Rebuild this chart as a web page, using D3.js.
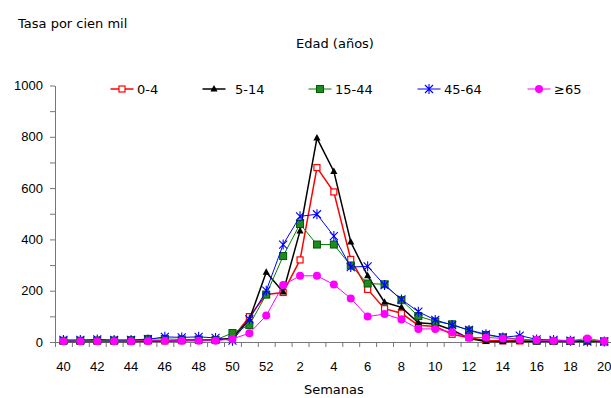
<!DOCTYPE html>
<html lang="es">
  <head>
    <meta charset="utf-8" />
    <title>Tasa por cien mil – Semanas</title>
    <script src="https://d3js.org/d3.v7.min.js"></script>
    <style>
      body {
        margin: 0;
        background: #fff;
        font-family: 'DejaVu Sans', sans-serif;
      }
      svg {
        display: block;
      }
      text {
        fill: #000;
        font-size: 13px;
      }
      .axis path,
      .axis line {
        stroke: #777;
      }
      .axis text {
        font-size: 13px;
        fill: #000;
      }
      .line {
        fill: none;
      }
    </style>
  </head>
  <body>
    <div id="chart"></div>
    <script>
      /* ----------------------------- DATA ----------------------------- */
      const weeks = [
        '40', '41', '42', '43', '44', '45', '46', '47', '48', '49', '50', '51', '52',
        '1', '2', '3', '4', '5', '6', '7', '8', '9', '10',
        '11', '12', '13', '14', '15', '16', '17', '18', '19', '20',
      ];

      const groups = ['0-4', '5-14', '15-44', '45-64', '≥65'];

      const age0to4 = [
        3, 3, 3, 3, 3, 4, 4, 5, 6, 8, 15, 99, 185,
        193, 320, 680, 585, 322, 205, 130, 112, 65, 60,
        30, 17, 6, 5, 4, 3, 3, 3, 3, 2,
      ];
      const age5to14 = [
        2, 2, 2, 2, 2, 3, 4, 6, 8, 8, 15, 88, 272,
        195, 433, 795, 665, 390, 258, 155, 135, 75, 70,
        47, 14, 2, 1, 3, 2, 2, 2, 2, 2,
      ];
      const age15to44 = [
        5, 5, 6, 6, 7, 12, 12, 10, 10, 8, 35, 66, 185,
        335, 460, 380, 380, 298, 228, 225, 163, 101, 80,
        69, 45, 27, 18, 10, 5, 4, 4, 6, 2,
      ];
      const age45to64 = [
        8, 8, 10, 8, 8, 10, 20, 18, 20, 16, 5, 88, 200,
        380, 490, 498, 413, 292, 295, 222, 166, 118, 86,
        66, 47, 30, 18, 25, 10, 8, 5, 2, 2,
      ];
      const age65plus = [
        3, 3, 3, 3, 3, 4, 5, 5, 5, 5, 12, 34, 103,
        222, 258, 258, 224, 170, 99, 109, 88, 51, 51,
        38, 17, 18, 14, 10, 8, 5, 5, 14, 3,
      ];

      const yTicks = [0, 100, 200, 300, 400, 500, 600, 700, 800, 900, 1000];

      /* ---------------------------- LAYOUT ---------------------------- */
      const W = 611,
        H = 398;
      const plot = { l: 55, r: 612.7, t: 85.5, b: 342 };

      const series = [
        { name: groups[0], values: age0to4, color: '#ff0000', marker: 'openSquare', lw: 1.5 },
        { name: groups[1], values: age5to14, color: '#000000', marker: 'triangle', lw: 1.5 },
        { name: groups[2], values: age15to44, color: '#008000', marker: 'square', lw: 1 },
        { name: groups[3], values: age45to64, color: '#0000ff', marker: 'star', lw: 1 },
        { name: groups[4], values: age65plus, color: '#ff00ff', marker: 'circle', lw: 1 },
      ];

      // legend marker centres (x) in the top row
      const legendX = [122, 214, 320, 429, 539];
      const legendTextX = [137, 235, 335, 444, 554];
      const legendY = 89;

      const svg = d3
        .select('#chart')
        .append('svg')
        .attr('width', W)
        .attr('height', H)
        .attr('viewBox', [0, 0, W, H]);

      /* ---------------------------- SCALES ---------------------------- */
      const x = d3.scaleBand().domain(weeks).range([plot.l, plot.r]);
      const xEdge = d3.scaleLinear().domain([0, weeks.length]).range([plot.l, plot.r]);
      const y = d3.scaleLinear().domain([0, 1000]).range([plot.b, plot.t]);
      const cx = (w) => x(w) + x.bandwidth() / 2;

      /* ----------------------------- AXES ----------------------------- */
      // tick marks at category edges
      svg
        .append('g')
        .attr('class', 'axis')
        .attr('transform', `translate(0,${plot.b})`)
        .call(
          d3
            .axisBottom(xEdge)
            .tickValues(d3.range(0, weeks.length + 1))
            .tickSize(5)
            .tickFormat(''),
        );

      // labels every other week
      svg
        .append('g')
        .attr('class', 'axis xlabels')
        .attr('transform', `translate(0,${plot.b})`)
        .call(
          d3
            .axisBottom(x)
            .tickValues(weeks.filter((_, i) => i % 2 === 0))
            .tickSize(0)
            .tickPadding(20),
        )
        .call((g) => g.select('.domain').remove());

      svg
        .append('g')
        .attr('class', 'axis')
        .attr('transform', `translate(${plot.l},0)`)
        .call(
          d3
            .axisLeft(y)
            .tickValues(yTicks)
            .tickSize(5)
            .tickSizeOuter(0)
            .tickPadding(7)
            .tickFormat((d) => (d % 200 === 0 ? d : '')),
        );

      /* ---------------------------- TITLES ---------------------------- */
      svg.append('text').attr('x', 18).attr('y', 28).text('Tasa por cien mil');

      svg
        .append('text')
        .attr('x', 335)
        .attr('y', 48)
        .attr('text-anchor', 'middle')
        .text('Edad (años)');

      svg
        .append('text')
        .attr('x', (plot.l + plot.r) / 2)
        .attr('y', 394)
        .attr('text-anchor', 'middle')
        .text('Semanas');

      /* ---------------------------- MARKERS --------------------------- */
      function drawMarker(g, type, color) {
        if (type === 'openSquare') {
          g.append('rect')
            .attr('x', -3)
            .attr('y', -3)
            .attr('width', 6)
            .attr('height', 6)
            .attr('fill', '#fff')
            .attr('stroke', color)
            .attr('stroke-width', 1.2);
        } else if (type === 'triangle') {
          g.append('path').attr('d', 'M0,-4L3.6,2.5L-3.6,2.5Z').attr('fill', color);
        } else if (type === 'square') {
          g.append('rect')
            .attr('x', -3.5)
            .attr('y', -3.5)
            .attr('width', 7)
            .attr('height', 7)
            .attr('fill', '#1f8a1f')
            .attr('stroke', '#005a00')
            .attr('stroke-width', 1);
        } else if (type === 'star') {
          g.append('path')
            .attr('d', 'M-4,-4L4,4M-4,4L4,-4M0,-5L0,5')
            .attr('stroke', color)
            .attr('stroke-width', 1.1)
            .attr('fill', 'none');
        } else if (type === 'circle') {
          g.append('circle').attr('r', 4).attr('fill', color);
        }
      }

      /* ----------------------------- LINES ---------------------------- */
      const line = d3
        .line()
        .x((d, i) => cx(weeks[i]))
        .y((d) => y(d));

      series.forEach((s) => {
        svg
          .append('path')
          .attr('class', 'line')
          .attr('stroke', s.color)
          .attr('stroke-width', s.lw)
          .attr('d', line(s.values));

        const pts = svg
          .append('g')
          .selectAll('g')
          .data(s.values)
          .join('g')
          .attr('transform', (d, i) => `translate(${cx(weeks[i])},${y(d)})`);
        pts.each(function () {
          drawMarker(d3.select(this), s.marker, s.color);
        });
      });

      /* ----------------------------- LEGEND --------------------------- */
      series.forEach((s, i) => {
        const lg = svg.append('g').attr('transform', `translate(${legendX[i]},${legendY})`);
        lg.append('line')
          .attr('x1', -11.5)
          .attr('x2', 11.5)
          .attr('stroke', s.color)
          .attr('stroke-width', s.lw);
        drawMarker(lg, s.marker, s.color);
        svg
          .append('text')
          .attr('x', legendTextX[i])
          .attr('y', legendY)
          .attr('dy', '0.35em')
          .text(s.name);
      });
    </script>
  </body>
</html>
